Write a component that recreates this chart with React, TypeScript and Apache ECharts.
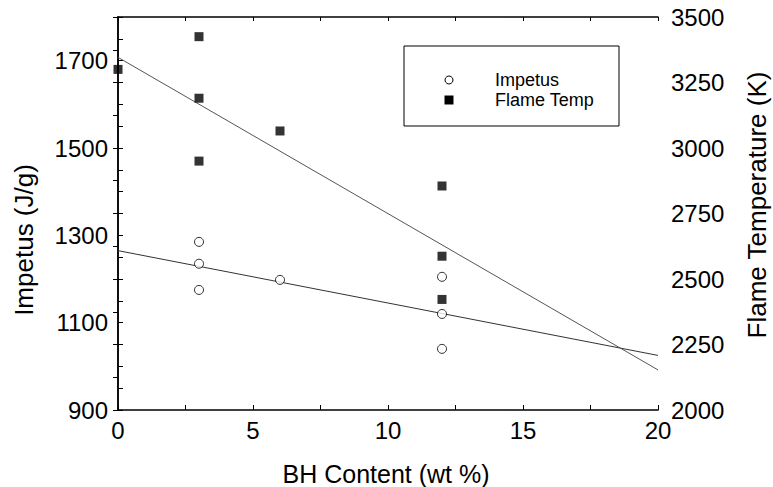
import React, { useEffect, useRef } from "react";
import * as echarts from "echarts";

// BH content (wt %) for each measured point
const bhImpetus = [3, 3, 3, 6, 12, 12, 12];
const impetus = [1285, 1235, 1175, 1198, 1205, 1120, 1040];

const bhTemp = [0, 3, 3, 3, 6, 12, 12, 12];
const flameTemp = [3300, 3425, 3190, 2950, 3065, 2855, 2587, 2422];

// linear fit end points
const fitX = [0, 20];
const impetusFit = [1265, 1025];
const tempFit = [3346, 2153];

const leftTicks = [900, 1100, 1300, 1500, 1700];
const rightTicks = [2000, 2250, 2500, 2750, 3000, 3250, 3500];
const xTicks = [0, 5, 10, 15, 20];

const FONT = "'Liberation Sans', Arial, Helvetica, sans-serif";

export default function App() {
  const ref = useRef<HTMLDivElement>(null);
  useEffect(() => {
    if (!ref.current) return;
    const chart = echarts.init(ref.current, undefined, { renderer: "svg" });
    const W = 773;
    const H = 487;
    const grid = { left: 118, right: 115, top: 17, bottom: 77 };
    const axisLine = { show: true, lineStyle: { color: "#000", width: 1.5 } };
    const tickStyle = { lineStyle: { color: "#000", width: 1 } };
    const option: any = {
      animation: false,
      backgroundColor: "#fff",
      grid: { ...grid, containLabel: false },
      xAxis: [
        {
          type: "value",
          min: 0,
          max: 20,
          interval: 5,
          position: "bottom",
          axisLine,
          axisTick: { show: true, inside: true, length: 5, ...tickStyle },
          minorTick: { show: true, splitNumber: 2, length: 5, ...tickStyle },
          splitLine: { show: false },
          axisLabel: {
            color: "#000",
            fontSize: 24,
            fontFamily: FONT,
            margin: 8,
            formatter: (v: number) => (xTicks.includes(v) ? String(v) : ""),
          },
        },
        {
          type: "value",
          min: 0,
          max: 20,
          interval: 5,
          position: "top",
          axisLine,
          axisTick: { show: true, inside: true, length: 4, ...tickStyle },
          minorTick: { show: true, splitNumber: 2, length: 4, ...tickStyle },
          splitLine: { show: false },
          axisLabel: { show: false },
        },
      ],
      yAxis: [
        {
          type: "value",
          min: 900,
          max: 1800,
          interval: 100,
          position: "left",
          axisLine,
          axisTick: { show: true, inside: true, length: 5, ...tickStyle },
          minorTick: { show: true, splitNumber: 2, length: 5, ...tickStyle },
          splitLine: { show: false },
          axisLabel: {
            color: "#000",
            fontSize: 24,
            fontFamily: FONT,
            margin: 10,
            formatter: (v: number) => (leftTicks.includes(v) ? String(v) : ""),
          },
        },
        {
          type: "value",
          min: 2000,
          max: 3500,
          interval: 250,
          position: "right",
          axisLine,
          axisTick: { show: true, inside: true, length: 5, ...tickStyle },
          minorTick: { show: true, splitNumber: 2, length: 5, ...tickStyle },
          splitLine: { show: false },
          axisLabel: {
            color: "#000",
            fontSize: 24,
            fontFamily: FONT,
            margin: 13,
            formatter: (v: number) => (rightTicks.includes(v) ? String(v) : ""),
          },
        },
      ],
      series: [
        {
          name: "Impetus fit",
          type: "line",
          xAxisIndex: 0,
          yAxisIndex: 0,
          data: fitX.map((x, i) => [x, impetusFit[i]]),
          showSymbol: false,
          lineStyle: { color: "#333", width: 1 },
          z: 2,
        },
        {
          name: "Flame Temp fit",
          type: "line",
          xAxisIndex: 0,
          yAxisIndex: 1,
          data: fitX.map((x, i) => [x, tempFit[i]]),
          showSymbol: false,
          lineStyle: { color: "#555", width: 1 },
          z: 2,
        },
        {
          name: "Impetus",
          type: "scatter",
          xAxisIndex: 0,
          yAxisIndex: 0,
          symbol: "circle",
          symbolSize: 9,
          itemStyle: { color: "#fff", borderColor: "#000", borderWidth: 1 },
          data: bhImpetus.map((x, i) => [x, impetus[i]]),
          z: 3,
        },
        {
          name: "Flame Temp",
          type: "scatter",
          xAxisIndex: 0,
          yAxisIndex: 1,
          symbol: "rect",
          symbolSize: 9,
          itemStyle: { color: "#000" },
          data: bhTemp.map((x, i) => [x, flameTemp[i]]),
          z: 3,
        },
      ],
      graphic: [
        {
          type: "text",
          x: 386,
          y: 474,
          style: {
            text: "BH Content (wt %)",
            fontSize: 25,
            fontFamily: FONT,
            fill: "#000",
            textAlign: "center",
            textVerticalAlign: "middle",
          },
        },
        {
          type: "text",
          x: 24,
          y: 240,
          rotation: Math.PI / 2,
          style: {
            text: "Impetus (J/g)",
            fontSize: 26,
            fontFamily: FONT,
            fill: "#000",
            textAlign: "center",
            textVerticalAlign: "middle",
          },
        },
        {
          type: "text",
          x: 757,
          y: 205,
          rotation: Math.PI / 2,
          style: {
            text: "Flame Temperature (K)",
            fontSize: 26,
            fontFamily: FONT,
            fill: "#000",
            textAlign: "center",
            textVerticalAlign: "middle",
          },
        },
        {
          type: "rect",
          shape: { x: 404, y: 46, width: 215, height: 80 },
          style: { fill: "#fff", stroke: "#000", lineWidth: 1 },
          z: 10,
        },
        {
          type: "circle",
          shape: { cx: 449, cy: 80, r: 4 },
          style: { fill: "#fff", stroke: "#000", lineWidth: 1 },
          z: 11,
        },
        {
          type: "rect",
          shape: { x: 444.5, y: 95.5, width: 9, height: 9 },
          style: { fill: "#000" },
          z: 11,
        },
        {
          type: "text",
          x: 495,
          y: 80,
          style: {
            text: "Impetus",
            fontSize: 18,
            fontFamily: FONT,
            fill: "#000",
            textAlign: "left",
            textVerticalAlign: "middle",
          },
          z: 11,
        },
        {
          type: "text",
          x: 495,
          y: 100,
          style: {
            text: "Flame Temp",
            fontSize: 18,
            fontFamily: FONT,
            fill: "#000",
            textAlign: "left",
            textVerticalAlign: "middle",
          },
          z: 11,
        },
      ],
    };
    chart.setOption(option);
    return () => chart.dispose();
  }, []);
  return (
    <div
      ref={ref}
      style={{ position: "fixed", left: 0, top: 0, width: 773, height: 487 }}
    />
  );
}
